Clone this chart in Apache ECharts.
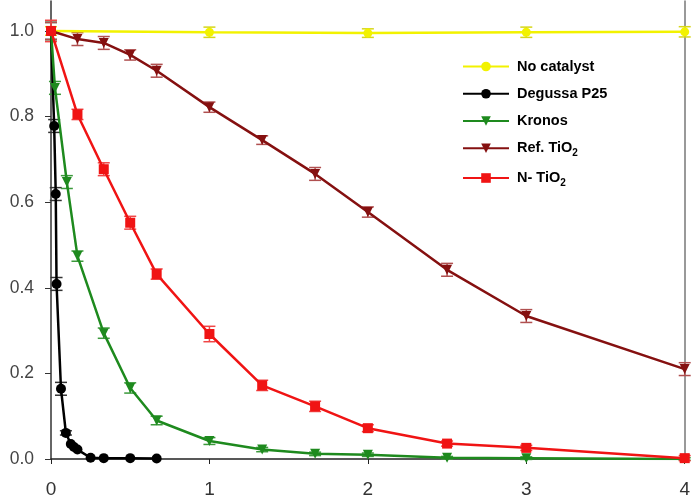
<!DOCTYPE html>
<html><head><meta charset="utf-8">
<script src="https://cdn.jsdelivr.net/npm/echarts@6/dist/echarts.min.js"></script>
<style>html,body{margin:0;padding:0;background:#fff}#c{width:693px;height:499px}</style>
</head><body><div id="c"></div>
<script>
var seriesNames = ['No catalyst', 'Degussa P25', 'Kronos', 'Ref. TiO2', 'N- TiO2'];
var xTicks = [0, 1, 2, 3, 4];
var yTicks = [0, 0.2, 0.4, 0.6, 0.8, 1.0];

var noCatX = [0, 1, 2, 3, 4];
var noCatY = [1.0, 0.997, 0.995, 0.997, 0.998];
var noCatErr = [0.01, 0.012, 0.01, 0.012, 0.012];

var degX = [0, 0.02, 0.03, 0.035, 0.063, 0.094, 0.125, 0.145, 0.167, 0.25, 0.333, 0.5, 0.667];
var degY = [1.0, 0.778, 0.619, 0.409, 0.164, 0.061, 0.035, 0.028, 0.022, 0.003, 0.002, 0.002, 0.001];
var degErr = [0.02, 0.015, 0.015, 0.015, 0.015, 0.005, 0, 0, 0, 0, 0, 0, 0];

var kroX = [0, 0.025, 0.1, 0.167, 0.333, 0.5, 0.667, 1, 1.333, 1.667, 2, 2.5, 3, 4];
var kroY = [1.0, 0.867, 0.647, 0.474, 0.294, 0.166, 0.09, 0.042, 0.022, 0.012, 0.01, 0.003, 0.002, 0.0];
var kroErr = [0.02, 0.015, 0.015, 0.012, 0.012, 0.012, 0.01, 0.008, 0.005, 0.004, 0.004, 0.003, 0.003, 0.003];

var refX = [0, 0.167, 0.333, 0.5, 0.667, 1, 1.333, 1.667, 2, 2.5, 3, 4];
var refY = [1.0, 0.981, 0.972, 0.944, 0.907, 0.822, 0.745, 0.666, 0.577, 0.442, 0.334, 0.21];
var refErr = [0.02, 0.015, 0.015, 0.012, 0.015, 0.012, 0.01, 0.015, 0.012, 0.015, 0.015, 0.015];

var nX = [0, 0.167, 0.333, 0.5, 0.667, 1, 1.333, 1.667, 2, 2.5, 3, 4];
var nY = [1.0, 0.805, 0.677, 0.552, 0.432, 0.292, 0.172, 0.123, 0.072, 0.036, 0.026, 0.002];
var nErr = [0.025, 0.012, 0.015, 0.015, 0.012, 0.018, 0.012, 0.012, 0.008, 0.006, 0.006, 0.006];

function zip(xs, ys) { return xs.map(function (x, i) { return [x, ys[i]]; }); }
function zip3(xs, ys, es) { return xs.map(function (x, i) { return [x, ys[i], es[i]]; }); }

function errSeries(xs, ys, es, color) {
  return {
    type: 'custom', silent: true, z: 3,
    data: zip3(xs, ys, es),
    renderItem: function (params, api) {
      var x = api.value(0), y = api.value(1), e = api.value(2);
      if (!e) return null;
      var hi = api.coord([x, y + e]), lo = api.coord([x, y - e]);
      var w = 6;
      var st = { stroke: color, lineWidth: 1.5 };
      return { type: 'group', children: [
        { type: 'line', shape: { x1: hi[0], y1: hi[1], x2: lo[0], y2: lo[1] }, style: st },
        { type: 'line', shape: { x1: hi[0] - w, y1: hi[1], x2: hi[0] + w, y2: hi[1] }, style: st },
        { type: 'line', shape: { x1: lo[0] - w, y1: lo[1], x2: lo[0] + w, y2: lo[1] }, style: st }
      ]};
    }
  };
}

function lineSeries(name, xs, ys, color, symbol, size, rot) {
  return {
    name: name, type: 'line', data: zip(xs, ys), z: 4,
    symbol: symbol, symbolSize: size, symbolRotate: rot || 0, showAllSymbol: true,
    lineStyle: { color: color, width: 2.5 },
    itemStyle: { color: color },
    emphasis: { disabled: true }
  };
}

var FONT = 'Liberation Sans, Arial, sans-serif';
var chart = echarts.init(document.getElementById('c'));
chart.setOption({
  animation: false,
  grid: { left: 51, right: 5, top: 1, bottom: 40, containLabel: false },
  legend: {
    orient: 'vertical', left: 462, top: 59, padding: 0,
    itemWidth: 46, itemHeight: 12, itemGap: 12.25,
    data: seriesNames,
    formatter: function (name) {
      if (/TiO2$/.test(name)) return '{n|' + name.slice(0, -1) + '}{s|2}';
      return '{n|' + name + '}';
    },
    textStyle: {
      fontFamily: FONT, fontWeight: 'bold', fontSize: 14.5, color: '#000', padding: [0, 0, 0, 3],
      rich: {
        n: { fontFamily: FONT, fontWeight: 'bold', fontSize: 14.5, color: '#000', lineHeight: 20 },
        s: { fontFamily: FONT, fontWeight: 'bold', fontSize: 10, color: '#000', lineHeight: 10, verticalAlign: 'bottom' }
      }
    }
  },
  xAxis: {
    type: 'value', min: 0, max: 4, interval: 1,
    axisLine: { show: true, onZero: false, lineStyle: { color: '#222', width: 1.5 } },
    axisTick: { show: true, length: 5, lineStyle: { color: '#222' } },
    splitLine: { show: false },
    axisLabel: { margin: 21, fontSize: 19, color: '#333', fontFamily: FONT,
      customValues: xTicks, formatter: function (v) { return String(v); } }
  },
  yAxis: [{
    type: 'value', min: 0, max: 1.07,
    axisLine: { show: true, lineStyle: { color: '#333', width: 1.5 } },
    axisTick: { show: true, length: 6, inside: false, customValues: yTicks, lineStyle: { color: '#333' } },
    splitLine: { show: false },
    axisLabel: { margin: 17, fontSize: 17.5, color: '#444', fontFamily: FONT,
      customValues: yTicks, formatter: function (v) { return v.toFixed(1); } }
  }, {
    type: 'value', min: 0, max: 1.07, position: 'right',
    axisLine: { show: true, lineStyle: { color: '#777', width: 1.5 } },
    axisTick: { show: false }, axisLabel: { show: false }, splitLine: { show: false }
  }],
  series: [
    lineSeries(seriesNames[0], noCatX, noCatY, '#f2f200', 'circle', 9),
    errSeries(noCatX, noCatY, noCatErr, '#d6d61a'),
    lineSeries(seriesNames[1], degX, degY, '#000000', 'circle', 10),
    errSeries(degX, degY, degErr, '#333333'),
    lineSeries(seriesNames[2], kroX, kroY, '#1e8a1e', 'triangle', 10, 180),
    errSeries(kroX, kroY, kroErr, '#3c9a3c'),
    lineSeries(seriesNames[3], refX, refY, '#851010', 'triangle', 10, 180),
    errSeries(refX, refY, refErr, '#b05050'),
    lineSeries(seriesNames[4], nX, nY, '#f01414', 'rect', 10),
    errSeries(nX, nY, nErr, '#f04646')
  ]
});
</script>
</body></html>
